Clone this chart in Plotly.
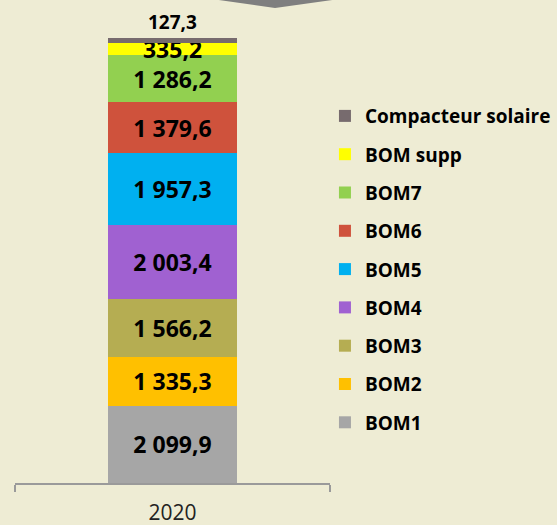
import plotly.graph_objects as go

categories = ["2020"]
series_names = ["BOM1", "BOM2", "BOM3", "BOM4", "BOM5", "BOM6", "BOM7", "BOM supp", "Compacteur solaire"]
series_values = [[2099.9], [1335.3], [1566.2], [2003.4], [1957.3], [1379.6], [1286.2], [335.2], [127.3]]
value_labels = ["2 099,9", "1 335,3", "1 566,2", "2 003,4", "1 957,3", "1 379,6", "1 286,2", "335,2", "127,3"]
colors = ["#a6a6a6", "#ffc000", "#b5ad52", "#a061d1", "#00b0f0", "#cf523c", "#92d050", "#ffff00", "#776b6e"]

bg = "#eeecd4"
fig = go.Figure()
n = len(series_names)
for i, (name, vals, lab, col) in enumerate(zip(series_names, series_values, value_labels, colors)):
    is_top = i == n - 1
    fig.add_trace(go.Bar(
        x=categories, y=vals, name=name, marker=dict(color=col, line=dict(width=0)),
        text=[lab], textposition="outside" if is_top else "inside",
        insidetextanchor="middle", textangle=0, constraintext="none",
        textfont=dict(family="Open Sans", size=19 if is_top else 23, color="#000000", weight="bold"),
        cliponaxis=False, width=0.41, legendgroup=name, legendrank=n - i, hoverinfo="skip",
    ))

total = sum(v[0] for v in series_values)
fig.update_layout(
    barmode="stack",
    width=557, height=525,
    paper_bgcolor=bg, plot_bgcolor=bg,
    margin=dict(l=15, r=227, t=30, b=42, autoexpand=False),
    showlegend=True,
    legend=dict(
        traceorder="grouped", tracegroupgap=10.6,
        x=0.984, xanchor="left", y=0.852, yanchor="top",
        font=dict(family="Open Sans", size=19, color="#000000", weight="bold"),
        bgcolor="rgba(0,0,0,0)", itemwidth=30,
    ),
    xaxis=dict(
        range=[-0.5, 0.5], tickson="boundaries", ticks="outside", ticklen=7,
        tickcolor="#9a9a9a", tickwidth=2, showline=True, linecolor="#9a9a9a", linewidth=2,
        tickfont=dict(family="Open Sans", size=21, color="#222222"), showgrid=False,
        ticklabelstandoff=10,
    ),
    yaxis=dict(range=[0, total * 453 / 445], visible=False, showgrid=False),
    shapes=[dict(
        type="path", xref="paper", yref="paper",
        path="M {:.4f} 1.08 L {:.4f} 1.08 L {:.4f} {:.4f} Z".format(
            (175 - 15) / 315, (377 - 15) / 315, (275 - 15) / 315, (483 - 8) / 453),
        fillcolor="#7f7f7f", line=dict(width=0), layer="above",
    )],
)
fig.write_html(
    "out.html",
    config={"displayModeBar": False},
    post_script="document.body.style.margin='0';document.body.style.background='#eeecd4';",
)
